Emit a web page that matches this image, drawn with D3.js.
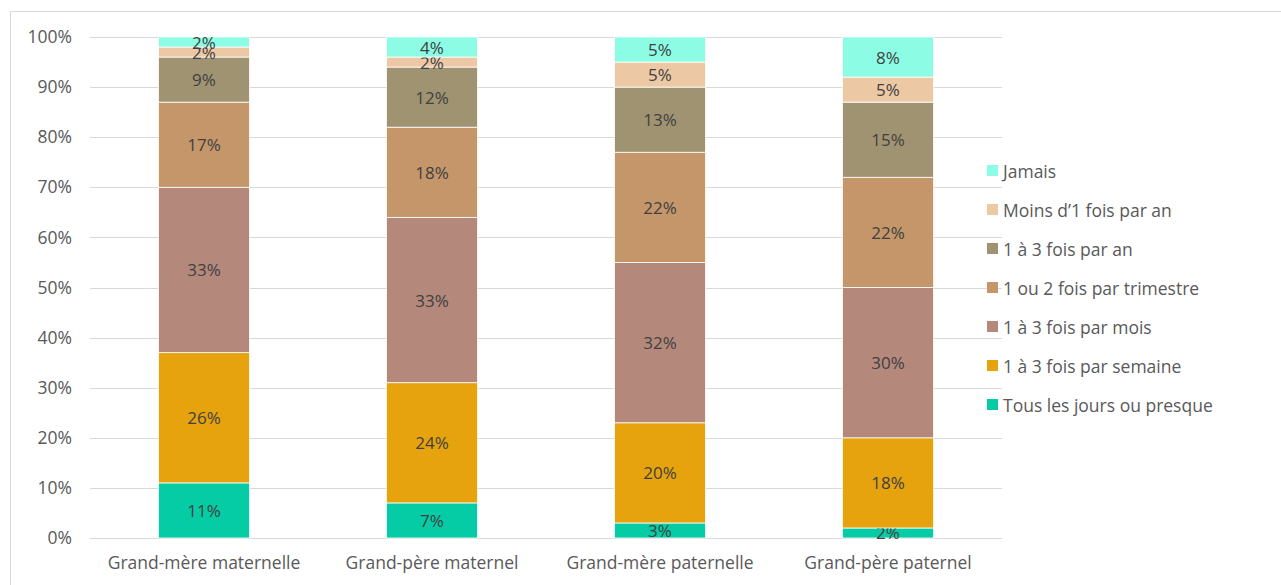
<!DOCTYPE html>
<html>
<head>
<meta charset="utf-8">
<script src="https://cdn.jsdelivr.net/npm/d3@7"></script>
<style>
  html, body { margin: 0; padding: 0; background: #fff; }
  svg { display: block; }
  text { font-family: "Open Sans", "Liberation Sans", sans-serif; }
</style>
</head>
<body>
<svg id="chart" width="1281" height="585"></svg>
<script>
const categories = ["Grand-mère maternelle", "Grand-père maternel", "Grand-mère paternelle", "Grand-père paternel"];
const seriesNames = ["Tous les jours ou presque", "1 à 3 fois par semaine", "1 à 3 fois par mois", "1 ou 2 fois par trimestre", "1 à 3 fois par an", "Moins d’1 fois par an", "Jamais"];
const tousLesJours = [11, 7, 3, 2];
const parSemaine   = [26, 24, 20, 18];
const parMois      = [33, 33, 32, 30];
const parTrimestre = [17, 18, 22, 22];
const parAn        = [9, 12, 13, 15];
const moinsDUnAn   = [2, 2, 5, 5];
const jamais       = [2, 4, 5, 8];
const seriesValues = [tousLesJours, parSemaine, parMois, parTrimestre, parAn, moinsDUnAn, jamais];
const colors = ["#05CCA5", "#E6A30E", "#B4897C", "#C4966A", "#A09372", "#EDC8A4", "#8CFCE4"];
const yTicks = [0, 10, 20, 30, 40, 50, 60, 70, 80, 90, 100];

const svg = d3.select("#chart");

// outer chart border
svg.append("rect").attr("x", 10.5).attr("y", 11.5).attr("width", 1400).attr("height", 700)
  .attr("fill", "none").attr("stroke", "#d9d9d9").attr("stroke-width", 1);

const pLeft = 90, pRight = 1002, pTop = 37, pBottom = 538;
const x = d3.scaleBand().domain(categories).range([pLeft, pRight]).paddingInner(0.6).paddingOuter(0.3);
const y = d3.scaleLinear().domain([0, 100]).range([pBottom, pTop]);

// gridlines
svg.append("g").selectAll("line").data(yTicks).join("line")
  .attr("x1", pLeft).attr("x2", pRight)
  .attr("y1", d => Math.round(y(d)) + 0.5).attr("y2", d => Math.round(y(d)) + 0.5)
  .attr("stroke", "#d9d9d9").attr("stroke-width", 1);

// y axis labels
const yAxis = d3.axisLeft(y).tickValues(yTicks).tickFormat(d => d + "%").tickSize(0).tickPadding(0);
const gy = svg.append("g").attr("transform", `translate(${72},0)`).call(yAxis);
gy.select(".domain").remove();
gy.selectAll("text").attr("fill", "#595959").style("font-size", "17.5px").style("font-family", "'Open Sans', sans-serif");

// x axis labels
const xAxis = d3.axisBottom(x).tickSize(0).tickPadding(0);
const gx = svg.append("g").attr("transform", `translate(0,${pBottom + 19})`).call(xAxis);
gx.select(".domain").remove();
gx.selectAll("text").attr("fill", "#595959").style("font-size", "17.5px").style("font-family", "'Open Sans', sans-serif");

// stack
const rows = categories.map((c, i) => {
  const r = { cat: c };
  seriesNames.forEach((s, j) => r[s] = seriesValues[j][i]);
  return r;
});
const stack = d3.stack().keys(seriesNames)(rows);

const groups = svg.append("g").selectAll("g").data(stack).join("g")
  .attr("fill", (d, i) => colors[i]);
groups.selectAll("rect").data(d => d).join("rect")
  .attr("x", d => x(d.data.cat))
  .attr("width", x.bandwidth())
  .attr("y", d => y(d[1]))
  .attr("height", d => y(d[0]) - y(d[1]))
  .attr("stroke", "#fff").attr("stroke-width", 0.8);

// labels
groups.selectAll("text").data(d => d).join("text")
  .attr("x", d => x(d.data.cat) + x.bandwidth() / 2)
  .attr("y", d => (y(d[0]) + y(d[1])) / 2)
  .attr("text-anchor", "middle").attr("dominant-baseline", "central")
  .attr("fill", "#404040").style("font-size", "17px")
  .text(d => (d[1] - d[0]) + "%");

// legend
const legend = svg.append("g");
const items = seriesNames.map((s, i) => ({ s, i })).reverse();
const lg = legend.selectAll("g").data(items).join("g")
  .attr("transform", (d, k) => `translate(987, ${171 + k * 39})`);
lg.append("rect").attr("x", 0).attr("y", -6).attr("width", 11).attr("height", 11)
  .attr("fill", d => colors[d.i]);
lg.append("text").attr("x", 16).attr("y", 0).attr("dominant-baseline", "central")
  .attr("fill", "#595959").style("font-size", "17.5px").text(d => d.s);
</script>
</body>
</html>
